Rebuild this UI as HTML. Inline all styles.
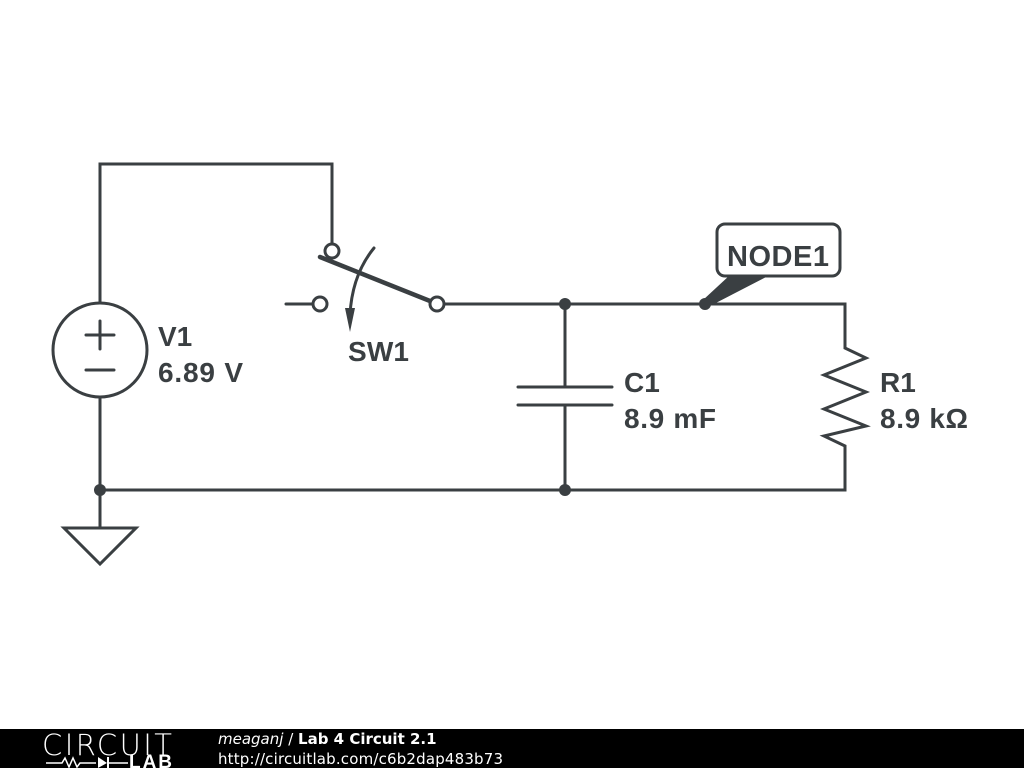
<!DOCTYPE html>
<html><head><style>body{margin:0;background:#fff;width:1024px;height:768px;overflow:hidden;font-family:"Liberation Sans",sans-serif}</style></head><body>
<svg width="1024" height="768" viewBox="0 0 1024 768" xmlns="http://www.w3.org/2000/svg">
<g stroke="#3a3f42" stroke-width="3" fill="none" stroke-linecap="round">
<polyline points="100,303 100,164 332,164 332,243"/>
<circle cx="100" cy="350" r="47"/>
<line x1="100" y1="397" x2="100" y2="528"/>
<polygon points="64,528 136,528 100,564"/>
<line x1="86" y1="335" x2="114" y2="335"/><line x1="100" y1="321" x2="100" y2="349"/>
<line x1="86" y1="370" x2="114" y2="370"/>
<circle cx="332" cy="251" r="7" fill="#fff"/>
<line x1="286" y1="304" x2="313" y2="304"/>
<circle cx="320" cy="304" r="7" fill="#fff"/>
<line x1="320" y1="257" x2="430" y2="301" stroke-width="4.5"/>
<circle cx="437" cy="304" r="7" fill="#fff"/>
<path d="M374,248 Q352,275 350,315"/>
<polyline points="444,304 845,304 845,348 866,358 824,375 866,392 824,409 866,426 824,436 845,446 845,490 100,490"/>
<line x1="565" y1="304" x2="565" y2="387"/><line x1="565" y1="405" x2="565" y2="490"/>
<line x1="518" y1="387" x2="612" y2="387"/><line x1="518" y1="405" x2="612" y2="405"/>
<rect x="717" y="224" width="123" height="52" rx="8" fill="#fff"/>
</g>
<polygon points="345,308 355,308 350,332" fill="#3a3f42"/>
<polygon points="703,300 730,275 770,275 710,306" fill="#3a3f42"/>
<g fill="#3a3f42"><circle cx="565" cy="304" r="6"/><circle cx="705" cy="304" r="6"/><circle cx="100" cy="490" r="6"/><circle cx="565" cy="490" r="6"/></g>
<g fill="#3a3f42" font-weight="bold" font-size="28" font-family="Liberation Sans,sans-serif">
<text x="727" y="266" font-size="29" textLength="102">NODE1</text>
<text x="158" y="346">V1</text><text x="158" y="382" textLength="85">6.89 V</text>
<text x="348" y="361" textLength="61">SW1</text>
<text x="624" y="392">C1</text><text x="624" y="428" textLength="92">8.9 mF</text>
<text x="880" y="392">R1</text><text x="880" y="428" textLength="88">8.9 kΩ</text>
</g>
<rect x="0" y="729" width="1024" height="39" fill="#000"/>
<text x="42" y="755" fill="#fff" font-size="29" font-family="DejaVu Sans,sans-serif" font-weight="200" textLength="130">CIRCUIT</text>
<polyline points="46,763 62,763 65,758 69,767 73,758 77,767 80,763 96,763" stroke="#fff" stroke-width="1.5" fill="none"/>
<polygon points="98,757 98,768 107,763" fill="#fff"/><line x1="108" y1="757" x2="108" y2="768" stroke="#fff" stroke-width="2"/><line x1="108" y1="763" x2="128" y2="763" stroke="#fff" stroke-width="1.5"/>
<text x="129" y="768" fill="#fff" font-size="19" font-weight="bold" font-family="Liberation Sans,sans-serif" textLength="43">LAB</text>
<text x="218" y="744" fill="#fff" font-size="15" font-family="DejaVu Sans,sans-serif"><tspan font-style="italic">meaganj</tspan> / <tspan font-weight="bold">Lab 4 Circuit 2.1</tspan></text>
<text x="218" y="764" fill="#fff" font-size="15" font-family="DejaVu Sans,sans-serif" textLength="285">http://circuitlab.com/c6b2dap483b73</text>
</svg>
</body></html>
